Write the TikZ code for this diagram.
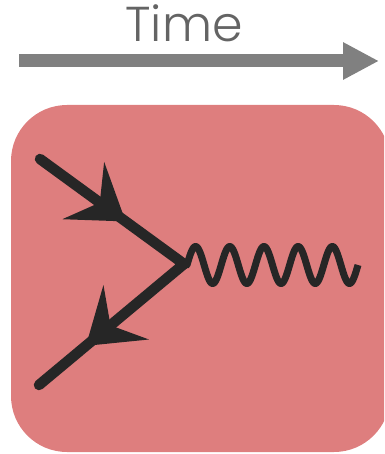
\documentclass[tikz,border=0pt]{standalone}
\usepackage{fontspec}
\setmainfont{Poppins}[UprightFont=* Light]
\usetikzlibrary{arrows.meta,decorations.markings}
\definecolor{boxred}{HTML}{DE7E7E}
\definecolor{ink}{HTML}{262626}
\definecolor{timegray}{HTML}{808080}
\definecolor{textgray}{HTML}{646464}
\tikzset{
  timearrow/.style={line width=13pt, draw=timegray, -{Triangle[length=36pt,width=35pt]}},
  fermion/.style={draw=ink, line width=10.5pt, line cap=round, line join=bevel,
    postaction={decorate},
    decoration={markings,
      mark=at position 106pt with {\arrow[ink]{Stealth[length=52pt,width=70pt,inset=20pt]}},
      mark=at position 306pt with {\arrow[ink]{Stealth[length=52pt,width=70pt,inset=20pt]}}}},
  photon/.style={draw=ink, line width=7pt, line join=round},
  labeltext/.style={font=\fontsize{49}{52}\selectfont, text=textgray, anchor=base, inner sep=0pt}
}
\begin{document}
\begin{tikzpicture}[x=1pt,y=-1pt]
\useasboundingbox (0,0) rectangle (384,454);
\clip (0,0) rectangle (384,454);
% heading and time axis
\node[labeltext] (label) at (184,42) {Time};
\coordinate (t0) at (19,61);
\coordinate (t1) at (379,61);
\draw[timearrow] (t0) -- (t1);
% panel
\fill[boxred, rounded corners=56pt] (11,105) rectangle (390,452);
% vertex: incoming and outgoing fermions, emitted photon (wavelength 34.2)
\coordinate (ein) at (40,159);
\coordinate (v) at (184,264);
\coordinate (eout) at (39,385);
\draw[fermion] (ein) -- (v) -- (eout);
\draw[photon] (v) -- plot[variable=\t, domain=0:171, samples=241] ({187+\t}, {265-18.5*sin(10.5263*\t)});
\end{tikzpicture}
\end{document}
